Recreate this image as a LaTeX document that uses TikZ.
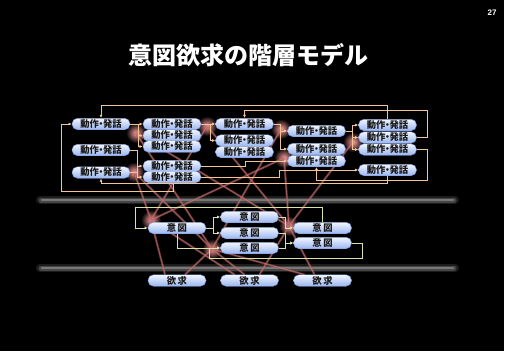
\documentclass[tikz,border=0pt]{standalone}
\usepackage{fontspec}
\newfontfamily\jpfont{Noto Sans CJK JP}
\newfontfamily\pgfont{Liberation Sans}
\usetikzlibrary{arrows.meta}
\definecolor{boxtop}{HTML}{F2F6FF}
\definecolor{boxbot}{HTML}{98B4EE}
\definecolor{boxedge}{HTML}{7090D8}
\definecolor{orangeln}{HTML}{F3C594}
\definecolor{limeln}{HTML}{D6E4A6}
\definecolor{redln}{HTML}{B05858}
\definecolor{redcore}{HTML}{E09090}
\definecolor{glowc}{HTML}{FFA0A0}
\definecolor{barc}{HTML}{707070}
\pgfdeclarelayer{back}
\pgfdeclarelayer{mid}
\pgfsetlayers{back,mid,main}
\newcommand\dosahatsuwa{動作\kern-2.6pt・\kern-2.6pt発話}
\begin{document}
\begin{tikzpicture}[x=1pt,y=-1pt,
 box/.style={rounded corners=5.5pt, minimum width=58pt, minimum height=11.5pt, inner sep=0pt,
   top color=boxtop, bottom color=boxbot, draw=boxedge, line width=0.4pt, text=black!90,
   font=\jpfont\bfseries\fontsize{9.3}{9.5}\selectfont},
 oln/.style={draw=orangeln, line width=0.8pt},
 oarr/.style={oln, -{Latex[length=3.2pt,width=3pt]}},
 lln/.style={draw=limeln, line width=0.8pt},
 larr/.style={lln, -{Latex[length=3.2pt,width=3pt]}},
 rline/.style={draw=redln, line width=2.2pt, opacity=0.55,
   postaction={draw=redcore, line width=0.7pt, opacity=0.5}},
 glow/.style={inner color=glowc, outer color=black}]
\useasboundingbox (0,0) rectangle (508,351);

% title and page number
\node[font=\jpfont\bfseries\fontsize{24}{24}\selectfont, text=white] (title) at (248,55) {意図欲求の階層モデル};
\node[font=\pgfont\bfseries\fontsize{8}{8}\selectfont, text=white] (pg) at (492,13) {27};

% top layer
\node[box] (a1) at (101,124) {\dosahatsuwa};
\node[box] (a2) at (101,150) {\dosahatsuwa};
\node[box] (a3) at (101,172.5) {\dosahatsuwa};
\node[box] (b1) at (172,124) {\dosahatsuwa};
\node[box] (b2) at (172,135.5) {\dosahatsuwa};
\node[box] (b3) at (172,146.5) {\dosahatsuwa};
\node[box] (b4) at (172,166) {\dosahatsuwa};
\node[box] (b5) at (172,177) {\dosahatsuwa};
\node[box] (c1) at (244.5,124) {\dosahatsuwa};
\node[box] (c2) at (244.5,140.5) {\dosahatsuwa};
\node[box] (c3) at (244.5,152) {\dosahatsuwa};
\node[box] (d1) at (316.5,131) {\dosahatsuwa};
\node[box] (d2) at (316.5,149) {\dosahatsuwa};
\node[box] (d3) at (316.5,161) {\dosahatsuwa};
\node[box] (e1) at (387.5,125) {\dosahatsuwa};
\node[box] (e2) at (387.5,137.5) {\dosahatsuwa};
\node[box] (e3) at (387.5,149.5) {\dosahatsuwa};
\node[box] (e4) at (387.5,170) {\dosahatsuwa};
% middle layer
\node[box] (f1) at (177,228) {意\hspace{1.5pt}図};
\node[box] (g1) at (249.5,217) {意\hspace{1.5pt}図};
\node[box] (g2) at (249.5,233) {意\hspace{1.5pt}図};
\node[box] (g3) at (249.5,248) {意\hspace{1.5pt}図};
\node[box] (h1) at (322.5,228) {意\hspace{1.5pt}図};
\node[box] (h2) at (322.5,243) {意\hspace{1.5pt}図};
% bottom layer
\node[box] (i1) at (177,280.5) {欲\hspace{1.5pt}求};
\node[box] (i2) at (249.5,280.5) {欲\hspace{1.5pt}求};
\node[box] (i3) at (322.5,280.5) {欲\hspace{1.5pt}求};

\begin{pgfonlayer}{back}
\fill[black] (0,0) rectangle (504,351);
\fill[white] (504,0) rectangle (508,351);
\foreach \yy in {200,268} {
  \draw[barc, line width=8pt, opacity=0.25, line cap=round] (40,\yy) -- (455,\yy);
  \draw[barc, line width=5pt, opacity=0.5, line cap=round] (41,\yy) -- (454,\yy);
  \draw[barc!85!white, line width=2.5pt, opacity=0.8, line cap=round] (42,\yy) -- (453,\yy);
}
\coordinate (gB2) at (136,133);
\coordinate (gA3) at (134,172);
\coordinate (gB1) at (207,126);
\coordinate (gD1) at (281,129);
\coordinate (gD3) at (284,158);
\coordinate (gE) at (353,142);
\coordinate (gF) at (151,220);
\coordinate (gG) at (212,249);
\coordinate (gH) at (289,226);
\foreach \c in {gB2,gA3,gB1,gD1,gD3,gE,gF,gG,gH}
  \shade[glow] (\c) circle (10pt);
% red links between layers
\draw[rline] (gF) -- (gB1);
\draw[rline] (gF) -- (gD3);
\draw[rline] (gF) -- (gA3);
\draw[rline] (gG) -- (gA3);
\draw[rline] (gG) -- (gD1);
\draw[rline] (gG) -- (gB2);
\draw[rline] (gH) -- (gB1);
\draw[rline] (gH) -- (gE);
\draw[rline] (gH) -- (gB2);
\draw[rline] (gH) -- (gD3);
\draw[rline] ([xshift=-12pt]i1.north) -- (gF);
\draw[rline] ([xshift=8pt]i1.north) -- (gG);
\draw[rline] ([xshift=-5pt]i2.north) -- (gG);
\draw[rline] ([xshift=10pt]i2.north) -- (gH);
\draw[rline] ([xshift=-15pt]i2.north) -- (gF);
\draw[rline] ([xshift=-8pt]i3.north) -- (gH);
\draw[rline] ([xshift=-18pt]i3.north) -- (gG);
\end{pgfonlayer}

\begin{pgfonlayer}{mid}
% orange connectors
\coordinate (busA) at (138,124);
\draw[oarr] (a1.east) -- (b1.west);
\draw[oarr] (busA) |- (b2.west);
\draw[oarr] (busA) |- (b3.west);
\coordinate (busB) at (137,150);
\draw[oln] (a2.east) -- (busB);
\draw[oarr] (busB) |- (b4.west);
\draw[oarr] (busB) |- (b5.west);
\draw[oln] (a3.east) -- (a3.east -| busB);
\coordinate (busC) at (210,124);
\draw[oarr] (b1.east) -- (c1.west);
\draw[oarr] (busC) |- (c2.west);
\draw[oarr] (b4.east) -- ++(44,0) |- (d3.west);
\draw[oarr] (b5.east) -- ++(78,0) |- (e4.west);
\coordinate (busD) at (280,124);
\draw[oln] (c1.east) -- (busD);
\draw[oarr] (busD) |- (d1.west);
\draw[oarr] (busD) |- (d2.west);
\coordinate (busE) at (352,131);
\draw[oln] (d1.east) -- (busE);
\draw[oarr] (busE) |- (e1.west);
\draw[oarr] (busE) |- (e2.west);
\draw[oarr] (busE) |- (e3.west);
\draw[oarr] (e1.north) -- ++(0,-14) -| (a1.north);
\draw[oarr] (e2.east) -- ++(11,0) -- ++(0,-27.5) -| (c1.north);
\draw[oarr] (e3.east) -- ++(11,0) -- ++(0,30.5) -| (d3.south);
\coordinate (fbk) at (173,183.5);
\draw[oarr] (e4.south) |- (fbk) -| (a3.south);
\draw[oarr] (fbk) -- ++(0,7.5) -| ([xshift=-10pt]a1.west) -- (a1.west);
% lime connectors
\draw[larr] (h1.north) -- ++(0,-15) -| ([xshift=-12pt]f1.west) -- (f1.west);
\coordinate (busF) at (213,228);
\draw[lln] (f1.east) -- (busF);
\draw[larr] (busF) |- (g1.west);
\draw[larr] (busF) |- (g2.west);
\draw[larr] (f1.south) |- (g3.west);
\draw[larr] (g1.east) -- ++(7,0) |- (h1.west);
\draw[larr] (g2.east) -- ++(7,0) |- (h2.west);
\draw[larr] (g3.east) -- ++(7,0) |- (h2.west);
\draw[larr] (h2.east) -- ++(11,0) -- ++(0,15) -| ([xshift=-11pt]g3.west) -- (g3.west);
\end{pgfonlayer}
\end{tikzpicture}
\end{document}
